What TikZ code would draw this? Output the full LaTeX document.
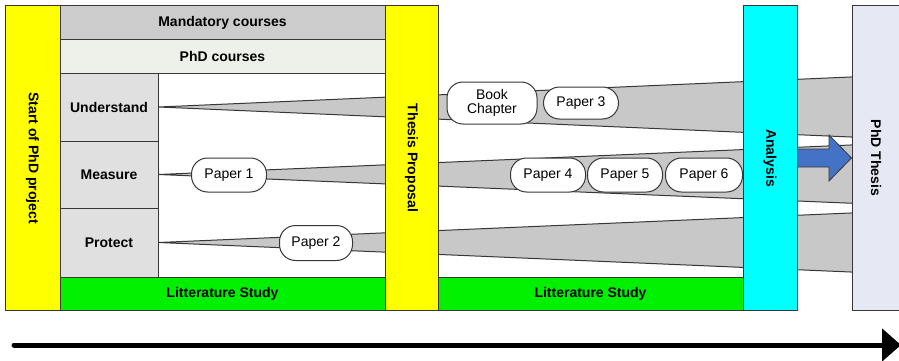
\documentclass[tikz,border=0pt]{standalone}
\usepackage{fontspec}
\usepackage{graphicx}
\setmainfont{Liberation Sans}
\usetikzlibrary{arrows.meta}

\definecolor{barYellow}{RGB}{255,255,0}
\definecolor{litGreen}{RGB}{0,240,0}
\definecolor{anaCyan}{RGB}{0,255,255}
\definecolor{mandGray}{RGB}{204,204,204}
\definecolor{phdcLight}{RGB}{238,241,234}
\definecolor{topicGray}{RGB}{224,224,224}
\definecolor{wedgeGray}{RGB}{200,200,200}
\definecolor{thesisBlue}{RGB}{230,233,244}
\definecolor{arrowBlue}{RGB}{68,114,196}
\definecolor{edge}{RGB}{55,55,55}

\tikzset{
  box/.style={draw=edge, line width=1pt, inner sep=0pt, align=center,
    font=\fontsize{14}{16}\selectfont\bfseries},
  paper/.style={draw=edge, line width=1pt, fill=white, rounded corners=16pt,
    inner sep=0pt, align=center, font=\fontsize{14}{16}\selectfont},
  wedge/.style={draw=edge, line width=1pt, fill=wedgeGray, line join=round},
  timeline/.style={line width=5pt, line cap=round,
    -{Triangle[length=19pt,width=32pt]}},
}

\begin{document}
\begin{tikzpicture}[x=1pt,y=-1pt]
  \useasboundingbox (0,0) rectangle (899,361);

  % topic rows (needed first for the wedge apexes)
  \node[box, fill=topicGray, minimum width=98pt, minimum height=68pt] (und) at (109,107) {Understand};
  \node[box, fill=topicGray, minimum width=98pt, minimum height=67pt] (mea) at (109,174.5) {Measure};
  \node[box, fill=topicGray, minimum width=98pt, minimum height=69pt] (pro) at (109,242.5) {Protect};

  % research streams widening towards the thesis
  \draw[wedge] (und.east) -- (860,76.6) -- (860,137.4) -- cycle;
  \draw[wedge] (mea.east) -- (860,144.6) -- (860,203.6) -- cycle;
  \draw[wedge] (pro.east) -- (860,212.6) -- (860,272.4) -- cycle;

  % course bands and literature study
  \node[box, fill=mandGray, minimum width=325pt, minimum height=34pt] (mand) at (222.5,23) {Mandatory courses};
  \node[box, fill=phdcLight, minimum width=325pt, minimum height=33pt] (phdc) at (222.5,56.5) {PhD courses};
  \node[box, fill=litGreen, minimum width=325pt, minimum height=33pt] (lit1) at (222.5,293.5) {Litterature Study};
  \node[box, fill=litGreen, minimum width=305pt, minimum height=33pt] (lit2) at (590.5,293.5) {Litterature Study};
  \draw[draw=edge, line width=1pt] (und.north east) -- (pro.south east);

  % milestones
  \node[box, fill=barYellow, minimum width=55pt, minimum height=304pt] (start) at (32.5,158) {\rotatebox{-90}{Start of PhD project}};
  \node[box, fill=barYellow, minimum width=53pt, minimum height=304pt] (prop) at (411.5,158) {\rotatebox{-90}{Thesis Proposal}};
  \node[box, fill=anaCyan, minimum width=54pt, minimum height=304pt] (ana) at (770,158) {\rotatebox{-90}{Analysis}};
  \node[box, fill=thesisBlue, minimum width=70pt, minimum height=304pt] (thesis) at (887,158) {};
  \node[font=\fontsize{14}{16}\selectfont\bfseries, inner sep=0pt] (thesislbl) at (876,158) {\rotatebox{-90}{PhD Thesis}};

  % publications
  \node[paper, minimum width=75pt, minimum height=34pt] (p1) at (229,175) {Paper 1};
  \node[paper, minimum width=73pt, minimum height=35pt] (p2) at (316,243) {Paper 2};
  \node[paper, minimum width=90pt, minimum height=42pt] (book) at (492,103) {Book\\[-2pt]Chapter};
  \node[paper, minimum width=75pt, minimum height=32pt] (p3) at (581,103) {Paper 3};
  \node[paper, minimum width=75pt, minimum height=34pt] (p4) at (548,175) {Paper 4};
  \node[paper, minimum width=75pt, minimum height=34pt] (p5) at (625,175) {Paper 5};
  \node[paper, minimum width=77pt, minimum height=34pt] (p6) at (704,175) {Paper 6};

  % block arrow from analysis into the thesis
  \draw[draw=edge, line width=0.8pt, fill=arrowBlue, line join=miter]
    (ana.east |- 0,149) -- (829,149) -- (829,135) -- (thesis.west |- 0,158)
    -- (829,181) -- (829,167) -- (ana.east |- 0,167);

  % time axis
  \coordinate (t0) at (14,345);
  \coordinate (t1) at (901,345);
  \draw[timeline] (t0) -- (t1);
\end{tikzpicture}
\end{document}
